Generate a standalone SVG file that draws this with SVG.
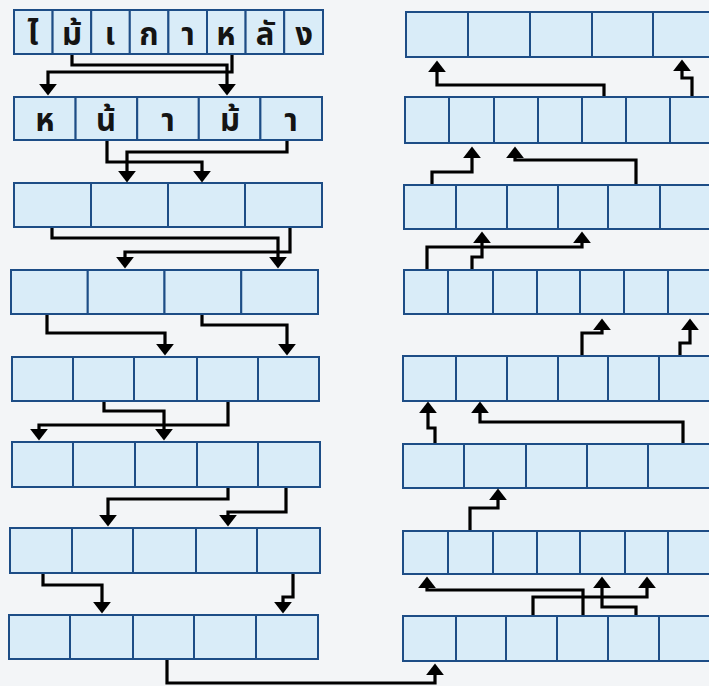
<svg xmlns="http://www.w3.org/2000/svg" width="709" height="686" viewBox="0 0 709 686">
<defs>
<style>
.cell{fill:#d9ecf8;stroke:#1d4d86;stroke-width:2}
.con{fill:none;stroke:#000;stroke-width:3.2;stroke-linejoin:miter;marker-end:url(#ah)}
.th{font-family:"Noto Sans Thai","Noto Sans","Liberation Sans",sans-serif;font-weight:bold;font-size:31px;fill:#141414;text-anchor:middle}
</style>
<marker id="ah" markerUnits="userSpaceOnUse" markerWidth="12" markerHeight="18" viewBox="0 0 11 17" refX="3" refY="8.5" orient="auto">
<path d="M0,0 L11,8.5 L0,17 Z" fill="#000"/>
</marker>
</defs>
<rect width="709" height="686" fill="#f3f5f7"/>

<g id="L1">
<rect class="cell" x="14" y="10" width="38.6" height="44"/><rect class="cell" x="52.6" y="10" width="38.6" height="44"/><rect class="cell" x="91.2" y="10" width="38.6" height="44"/><rect class="cell" x="129.8" y="10" width="38.6" height="44"/><rect class="cell" x="168.4" y="10" width="38.6" height="44"/><rect class="cell" x="207" y="10" width="38.6" height="44"/><rect class="cell" x="245.6" y="10" width="38.6" height="44"/><rect class="cell" x="284.2" y="10" width="38.8" height="44"/>
<text class="th" x="33" y="45">ไ</text><text class="th" x="72" y="45">ม้</text><text class="th" x="110" y="45">เ</text><text class="th" x="149" y="45">ก</text><text class="th" x="188" y="45">า</text><text class="th" x="226" y="45">ห</text><text class="th" x="265" y="45">ลั</text><text class="th" x="304" y="45">ง</text>
</g>
<g id="L2">
<rect class="cell" x="14" y="97" width="61.6" height="43"/><rect class="cell" x="75.6" y="97" width="61.6" height="43"/><rect class="cell" x="137.2" y="97" width="61.6" height="43"/><rect class="cell" x="198.8" y="97" width="61.6" height="43"/><rect class="cell" x="260.4" y="97" width="61.6" height="43"/>
<text class="th" x="45" y="131">ห</text><text class="th" x="106" y="131">น้</text><text class="th" x="168" y="131">า</text><text class="th" x="230" y="131">ม้</text><text class="th" x="291" y="131">า</text>
</g>
<g id="L3">
<rect class="cell" x="14" y="183" width="77" height="44"/><rect class="cell" x="91" y="183" width="77" height="44"/><rect class="cell" x="168" y="183" width="77" height="44"/><rect class="cell" x="245" y="183" width="77" height="44"/>
</g>
<g id="L4">
<rect class="cell" x="11" y="270" width="76.75" height="44"/><rect class="cell" x="87.75" y="270" width="76.75" height="44"/><rect class="cell" x="164.5" y="270" width="76.75" height="44"/><rect class="cell" x="241.25" y="270" width="76.75" height="44"/>
</g>
<g id="L5">
<rect class="cell" x="12" y="357" width="61" height="44"/><rect class="cell" x="73" y="357" width="61" height="44"/><rect class="cell" x="134" y="357" width="63" height="44"/><rect class="cell" x="197" y="357" width="61" height="44"/><rect class="cell" x="258" y="357" width="61" height="44"/>
</g>
<g id="L6">
<rect class="cell" x="12" y="442" width="61" height="45"/><rect class="cell" x="73" y="442" width="62" height="45"/><rect class="cell" x="135" y="442" width="62" height="45"/><rect class="cell" x="197" y="442" width="61" height="45"/><rect class="cell" x="258" y="442" width="62" height="45"/>
</g>
<g id="L7">
<rect class="cell" x="10" y="528" width="62" height="45"/><rect class="cell" x="72" y="528" width="61" height="45"/><rect class="cell" x="133" y="528" width="63" height="45"/><rect class="cell" x="196" y="528" width="61" height="45"/><rect class="cell" x="257" y="528" width="63" height="45"/>
</g>
<g id="L8">
<rect class="cell" x="9" y="615" width="61" height="44"/><rect class="cell" x="70" y="615" width="63" height="44"/><rect class="cell" x="133" y="615" width="61" height="44"/><rect class="cell" x="194" y="615" width="62" height="44"/><rect class="cell" x="256" y="615" width="62" height="44"/>
</g>

<g id="R1">
<rect class="cell" x="406" y="12" width="62" height="45"/><rect class="cell" x="468" y="12" width="62" height="45"/><rect class="cell" x="530" y="12" width="62" height="45"/><rect class="cell" x="592" y="12" width="61" height="45"/><rect class="cell" x="653" y="12" width="62" height="45"/>
</g>
<g id="R2">
<rect class="cell" x="405" y="97" width="44" height="46"/><rect class="cell" x="449" y="97" width="45" height="46"/><rect class="cell" x="494" y="97" width="44" height="46"/><rect class="cell" x="538" y="97" width="44" height="46"/><rect class="cell" x="582" y="97" width="44" height="46"/><rect class="cell" x="626" y="97" width="44" height="46"/><rect class="cell" x="670" y="97" width="44" height="46"/>
</g>
<g id="R3">
<rect class="cell" x="404" y="185" width="52" height="44"/><rect class="cell" x="456" y="185" width="51" height="44"/><rect class="cell" x="507" y="185" width="51" height="44"/><rect class="cell" x="558" y="185" width="50" height="44"/><rect class="cell" x="608" y="185" width="52" height="44"/><rect class="cell" x="660" y="185" width="52" height="44"/>
</g>
<g id="R4">
<rect class="cell" x="404" y="270" width="44" height="44"/><rect class="cell" x="448" y="270" width="45" height="44"/><rect class="cell" x="493" y="270" width="44" height="44"/><rect class="cell" x="537" y="270" width="43" height="44"/><rect class="cell" x="580" y="270" width="44" height="44"/><rect class="cell" x="624" y="270" width="44" height="44"/><rect class="cell" x="668" y="270" width="44" height="44"/>
</g>
<g id="R5">
<rect class="cell" x="403" y="356" width="53" height="45"/><rect class="cell" x="456" y="356" width="51" height="45"/><rect class="cell" x="507" y="356" width="51" height="45"/><rect class="cell" x="558" y="356" width="50" height="45"/><rect class="cell" x="608" y="356" width="51" height="45"/><rect class="cell" x="659" y="356" width="52" height="45"/>
</g>
<g id="R6">
<rect class="cell" x="403" y="444" width="61" height="44"/><rect class="cell" x="464" y="444" width="62" height="44"/><rect class="cell" x="526" y="444" width="61" height="44"/><rect class="cell" x="587" y="444" width="61" height="44"/><rect class="cell" x="648" y="444" width="64" height="44"/>
</g>
<g id="R7">
<rect class="cell" x="403" y="531" width="45" height="43"/><rect class="cell" x="448" y="531" width="45" height="43"/><rect class="cell" x="493" y="531" width="44" height="43"/><rect class="cell" x="537" y="531" width="43" height="43"/><rect class="cell" x="580" y="531" width="45" height="43"/><rect class="cell" x="625" y="531" width="43" height="43"/><rect class="cell" x="668" y="531" width="44" height="43"/>
</g>
<g id="R8">
<rect class="cell" x="403" y="616" width="53" height="45"/><rect class="cell" x="456" y="616" width="50" height="45"/><rect class="cell" x="506" y="616" width="51" height="45"/><rect class="cell" x="557" y="616" width="51" height="45"/><rect class="cell" x="608" y="616" width="51" height="45"/><rect class="cell" x="659" y="616" width="52" height="45"/>
</g>

<g id="connectors">
<path class="con" d="M72,55 V65 H227 V87"/>
<path class="con" d="M232,55 V72 H48 V87"/>
<path class="con" d="M107,141 V162 H202 V174"/>
<path class="con" d="M287,141 V152 H127 V174"/>
<path class="con" d="M52,228 V238 H278 V260"/>
<path class="con" d="M290,228 V252 H125 V260"/>
<path class="con" d="M47,315 V333 H165 V347"/>
<path class="con" d="M202,315 V325 H287 V347"/>
<path class="con" d="M104,402 V411 H164 V432"/>
<path class="con" d="M228,402 V425 H39 V432"/>
<path class="con" d="M228,488 V499 H108 V518"/>
<path class="con" d="M286,488 V512 H228 V518"/>
<path class="con" d="M43,574 V585 H102 V605"/>
<path class="con" d="M293,574 V597 H283 V605"/>
<path class="con" d="M167,660 V683 H435 V672"/>

<path class="con" d="M604,96 V85 H437 V69"/>
<path class="con" d="M692,96 V78 H682 V68"/>
<path class="con" d="M432,184 V172 H472 V155"/>
<path class="con" d="M636,184 V160 H515 V155"/>
<path class="con" d="M427,269 V247 H582 V240"/>
<path class="con" d="M472,269 V257 H482 V240"/>
<path class="con" d="M582,355 V333 H602 V327"/>
<path class="con" d="M680,355 V343 H690 V327"/>
<path class="con" d="M435,443 V428 H428 V410"/>
<path class="con" d="M683,443 V422 H480 V410"/>
<path class="con" d="M470,530 V508 H498 V497"/>
<path class="con" d="M583,615 V590 H427 V585"/>
<path class="con" d="M533,615 V597 H647 V585"/>
<path class="con" d="M636,615 V607 H602 V585"/>
</g>
</svg>
